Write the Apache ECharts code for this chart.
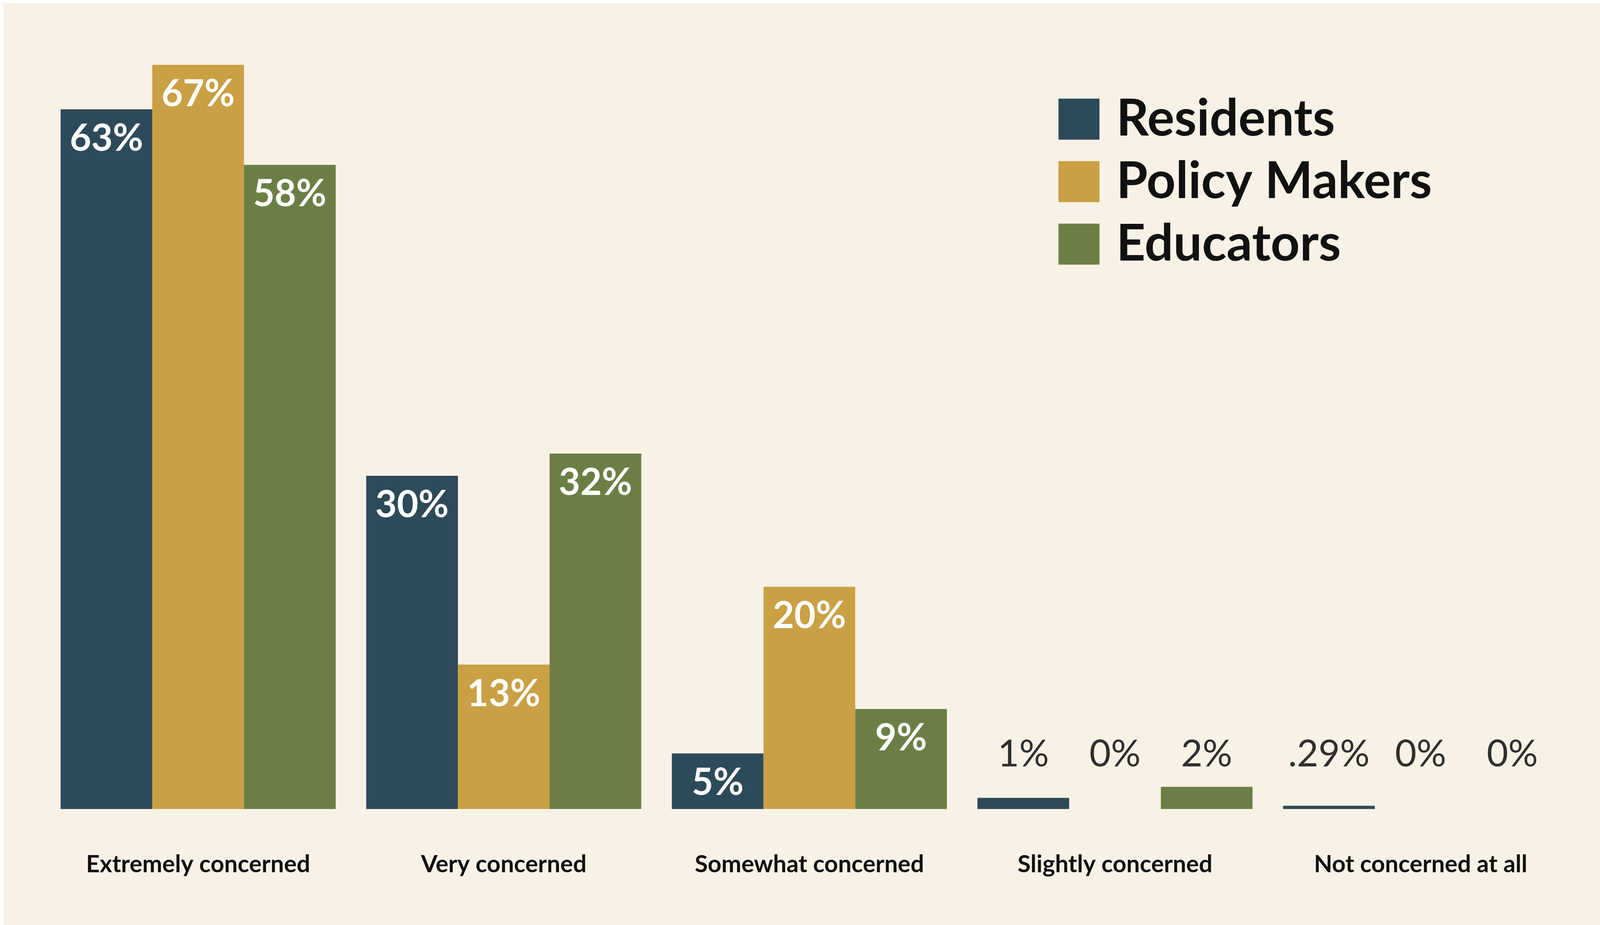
<!DOCTYPE html>
<html>
<head>
<meta charset="utf-8">
<script src="https://cdn.jsdelivr.net/npm/echarts@6/dist/echarts.min.js"></script>
<style>
  html, body { margin: 0; padding: 0; background: #ffffff; width: 100%; height: 100%; overflow: hidden; }
  #chart { position: absolute; left: 8px; top: 8px; right: 0; bottom: 0; }
</style>
</head>
<body>
<div id="chart"></div>
<script>
const categories = ['Extremely concerned', 'Very concerned', 'Somewhat concerned', 'Slightly concerned', 'Not concerned at all'];
const residents = [63, 30, 5, 1, 0.29];
const policyMakers = [67, 13, 20, 0, 0];
const educators = [58, 32, 9, 2, 0];
const seriesNames = ['Residents', 'Policy Makers', 'Educators'];
const colors = ['#2d4a59', '#c9a044', '#6b7f44'];

const FONT = 'Lato, "Open Sans", sans-serif';

// small bars get their label written above in grey, the rest inside in white
const fmt = v => String(v).replace(/^0\./, '.') + '%';
function toData(values) {
    return values.map(v => {
        if (v >= 5) {
            return {
                value: v,
                label: {
                    position: 'insideTop', distance: 28,
                    color: '#ffffff', fontWeight: 'bold'
                }
            };
        }
        return {
            value: v,
            label: {
                position: 'insideBottom', distance: 92,
                color: '#2f2f2f', fontWeight: 'normal'
            }
        };
    });
}

const allValues = [residents, policyMakers, educators];

const chart = echarts.init(document.getElementById('chart'));
chart.setOption({
    backgroundColor: '#f8f1e6',
    animation: false,
    color: colors,
    legend: {
        orient: 'vertical',
        right: 430,
        top: 232,
        padding: 0,
        icon: 'rect',
        itemWidth: 105,
        itemHeight: 105,
        itemGap: 30,
        textStyle: {
            fontFamily: FONT,
            fontSize: 130,
            lineHeight: 127,
            fontWeight: 'bold',
            color: '#111111',
            padding: [0, 0, 0, 38]
        },
        data: seriesNames
    },
    grid: { left: 108, right: 68, top: 158, bottom: 297 },
    xAxis: {
        type: 'category',
        data: categories,
        axisLine: { show: false },
        axisTick: { show: false },
        axisLabel: {
            margin: 112,
            fontFamily: FONT,
            fontSize: 61,
            fontWeight: 'bold',
            color: '#111111'
        }
    },
    yAxis: {
        type: 'value',
        min: 0,
        max: 67,
        show: false,
        splitLine: { show: false }
    },
    series: seriesNames.map((name, i) => ({
        name: name,
        type: 'bar',
        barGap: '0%',
        barCategoryGap: '10%',
        data: toData(allValues[i]),
        label: {
            show: true,
            fontFamily: FONT,
            fontSize: 95,
            lineHeight: 95,
            formatter: p => fmt(p.value)
        }
    }))
});
</script>
</body>
</html>
